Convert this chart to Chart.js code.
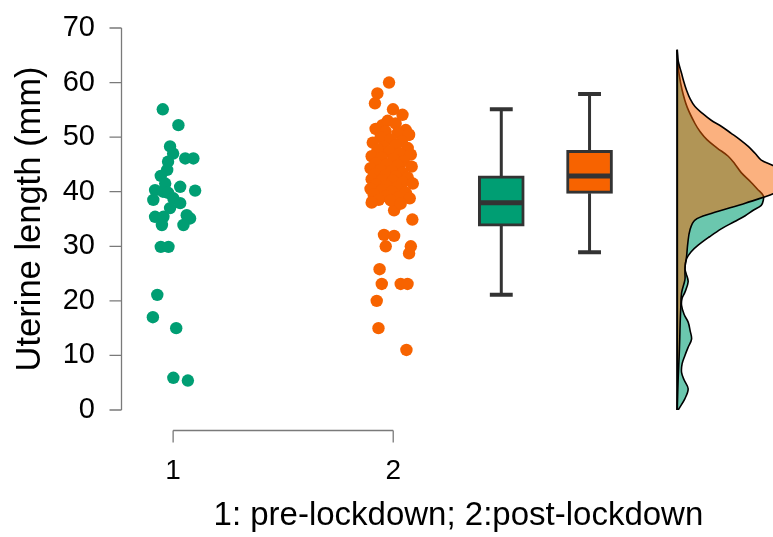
<!DOCTYPE html>
<html>
<head>
<meta charset="utf-8">
<script src="https://cdn.jsdelivr.net/npm/chart.js@4.4.0/dist/chart.umd.min.js"></script>
<style>
  html, body { margin: 0; padding: 0; background: #fff; overflow: hidden; }
</style>
</head>
<body>
<canvas id="grafico" width="801" height="537"></canvas>
<script>
//datos
const grupos = ["1", "2"];

//puntos pre-lockdown (x con jitter, y en mm)
const preX = [0.953, 1.024, 0.986, 1.000, 0.977, 1.055, 1.092, 0.973, 0.944, 1.032, 1.100, 0.918, 0.964, 0.954, 0.977, 0.910,
	1.001, 1.032, 0.986, 0.918, 0.956, 0.949, 1.062, 1.077, 1.047, 0.944, 0.979, 0.928, 0.908, 1.014, 1.001, 1.067];
const preY = [55.1, 52.2, 48.3, 47.0, 45.5, 46.1, 46.1, 44.0, 42.9, 40.9, 40.2, 40.3, 41.5, 40.0, 39.8, 38.5,
	38.8, 37.9, 37.0, 35.4, 35.4, 33.9, 35.7, 35.1, 33.9, 29.9, 29.9, 21.1, 17.0, 15.0, 5.9, 5.4];

//puntos post-lockdown
const postX = [1.981, 1.928, 1.917, 1.999, 2.042, 1.951, 2.057, 2.072, 1.905, 2.004, 2.087, 1.958, 2.004, 1.966, 2.080, 2.072,
	1.938, 1.948, 2.034, 2.065, 1.925, 1.933, 2.060,
	1.975, 2.011, 1.920, 1.966, 2.021, 2.071, 1.943, 1.989, 2.039, 1.907, 2.011, 1.957, 2.066, 1.929,
	1.984, 2.030, 2.080, 1.902, 1.948, 2.002, 2.048, 1.920, 1.970, 2.021, 2.084, 1.897, 1.943, 1.993, 2.043, 1.916,
	1.966, 2.011, 2.066, 1.902, 1.948, 1.998,
	2.043, 2.089, 1.920, 1.970, 2.016, 1.897, 1.948, 1.993, 2.057, 1.911, 1.966, 2.025, 2.075, 1.934, 1.989, 1.902, 2.034];
const postY = [60.0, 58.0, 56.2, 55.1, 54.1, 52.2, 51.3, 50.4, 38.2, 36.6, 34.9, 32.1, 31.9, 30.0, 30.0, 28.7,
	25.8, 23.1, 23.1, 23.1, 20.0, 15.0, 11.0,
	53.0, 52.5, 51.5, 51.0, 50.8, 50.5, 50.0, 49.6, 49.2, 49.0, 48.5, 48.2, 48.0, 47.8,
	47.4, 47.0, 46.8, 46.5, 46.2, 46.0, 45.6, 45.2, 45.0, 44.8, 44.6, 44.3, 44.0, 43.8, 43.5, 43.2,
	43.0, 42.8, 42.6, 42.3, 42.1, 42.0,
	41.7, 41.5, 41.3, 41.0, 40.8, 40.5, 40.3, 40.0, 39.8, 39.5, 39.2, 39.0, 38.8, 38.5, 38.4, 38.0, 37.8];

//cajas (min, q1, mediana, q3, max)
const cajaX = [2.491, 2.892];
const cajaMin = [21.1, 28.9];
const cajaQ1 = [33.7, 39.7];
const cajaMed = [38.0, 42.9];
const cajaQ3 = [42.9, 47.6];
const cajaMax = [55.1, 57.9];

//densidades (mm, densidad)
const densPreY = [0, 2.1, 3.9, 5.5, 6.9, 8.5, 10.0, 11.5, 13.0, 14.5, 16.1, 17.5, 19.2, 20.5, 21.6, 23.5, 25.0, 25.9, 27.7, 29.0,
	30.2, 31.7, 33.2, 34.5, 35.6, 36.6, 37.5, 38.4, 39.3, 40.5, 41.7, 43.5, 45.0, 46.5, 48.0, 49.5, 51.0, 52.5, 55.5, 58.6, 61.5, 64.0, 66.0];
const densPre = [0.0005, 0.0039, 0.0055, 0.0035, 0.0022, 0.0025, 0.0039, 0.0055, 0.0072, 0.0065, 0.0055, 0.0035, 0.0022, 0.0025, 0.0039, 0.0055, 0.0045, 0.0039, 0.0047, 0.0070,
	0.0105, 0.016, 0.022, 0.0285, 0.034, 0.038, 0.042, 0.043, 0.043, 0.040, 0.037, 0.032, 0.029, 0.0255, 0.020, 0.015, 0.0115, 0.0089, 0.005, 0.0025, 0.001, 0.0003, 0];
const densPostY = [0, 3.7, 6.5, 9.8, 13.0, 15.9, 18.5, 21.4, 23.9, 25.1, 26.5, 28.1, 30.5, 33.0, 34.8, 36.0, 37.9, 39.7, 41.0, 42.2,
	43.5, 44.6, 45.8, 47.0, 48.3, 49.5, 50.7, 52.0, 53.1, 54.4, 55.6, 57.0, 58.6, 60.2, 61.7, 64.0, 66.0];
const densPost = [0, 0.0003, 0.0006, 0.001, 0.0013, 0.0015, 0.0018, 0.0022, 0.0039, 0.0039, 0.004, 0.0047, 0.0053, 0.0064, 0.0089, 0.017, 0.034, 0.0485, 0.054, 0.056,
	0.052, 0.049, 0.042, 0.039, 0.0355, 0.0315, 0.027, 0.022, 0.017, 0.0125, 0.0089, 0.0065, 0.0047, 0.0033, 0.0022, 0.0005, 0];

const verde = "#009E73";
const naranja = "#F76300";
const oscuro = "#333333";
const fuente = "'Liberation Sans', Arial, sans-serif";

const densBase = 3.29; //posicion de la linea base de las densidades
const densEscala = 9.1; //unidades de x por unidad de densidad
const tope = 0.052; //media anchura de los topes
const medio = 0.095; //media anchura de la mediana

const datasets = [];

//puntos
datasets.push({
	type: "scatter",
	data: preX.map((x, i) => ({ x: x, y: preY[i] })),
	backgroundColor: verde,
	borderWidth: 0,
	pointRadius: 6.2,
	order: 1,
});
datasets.push({
	type: "scatter",
	data: postX.map((x, i) => ({ x: x, y: postY[i] })),
	backgroundColor: naranja,
	borderWidth: 0,
	pointRadius: 6.2,
	order: 1,
});

//cajas
datasets.push({
	type: "bar",
	data: cajaX.map((x, i) => ({ x: x, y: [cajaQ1[i], cajaQ3[i]] })),
	backgroundColor: [verde, naranja],
	borderColor: oscuro,
	borderWidth: 3,
	borderSkipped: false,
	barThickness: 46,
	order: 3,
});

for (let i = 0; i < cajaX.length; i++) {
	const linea = { type: "line", borderColor: oscuro, pointRadius: 0, fill: false, tension: 0 };
	//bigotes
	datasets.push(Object.assign({}, linea, { data: [{ x: cajaX[i], y: cajaQ3[i] }, { x: cajaX[i], y: cajaMax[i] }], borderWidth: 3, order: 4 }));
	datasets.push(Object.assign({}, linea, { data: [{ x: cajaX[i], y: cajaQ1[i] }, { x: cajaX[i], y: cajaMin[i] }], borderWidth: 3, order: 4 }));
	//topes
	datasets.push(Object.assign({}, linea, { data: [{ x: cajaX[i] - tope, y: cajaMax[i] }, { x: cajaX[i] + tope, y: cajaMax[i] }], borderWidth: 4, order: 4 }));
	datasets.push(Object.assign({}, linea, { data: [{ x: cajaX[i] - tope, y: cajaMin[i] }, { x: cajaX[i] + tope, y: cajaMin[i] }], borderWidth: 4, order: 4 }));
	//mediana
	datasets.push(Object.assign({}, linea, { data: [{ x: cajaX[i] - medio, y: cajaMed[i] }, { x: cajaX[i] + medio, y: cajaMed[i] }], borderWidth: 5, order: 2 }));
}

//densidades en vertical
datasets.push({
	type: "line",
	indexAxis: "y",
	data: densPreY.map((y, i) => ({ x: densBase + densPre[i] * densEscala, y: y })),
	borderColor: "#000",
	borderWidth: 1.6,
	backgroundColor: "rgba(0,158,115,0.58)",
	fill: { value: densBase },
	pointRadius: 0,
	tension: 0.35,
	order: 7,
});
datasets.push({
	type: "line",
	indexAxis: "y",
	data: densPostY.map((y, i) => ({ x: densBase + densPost[i] * densEscala, y: y })),
	borderColor: "#000",
	borderWidth: 1.6,
	backgroundColor: "rgba(247,99,0,0.5)",
	fill: { value: densBase },
	pointRadius: 0,
	tension: 0.35,
	order: 6,
});
//linea base
datasets.push({
	type: "line",
	data: [{ x: densBase, y: Math.min(...densPreY) }, { x: densBase, y: Math.max(...densPreY) }],
	borderColor: "#000",
	borderWidth: 2,
	pointRadius: 0,
	order: 0,
});

//ejes al estilo de R
const ejesR = {
	id: "ejesR",
	afterDraw: function (chart) {
		const ctx = chart.ctx;
		const x = chart.scales.x;
		const y = chart.scales.y;
		const area = chart.chartArea;
		ctx.save();
		ctx.strokeStyle = "#7a7a7a";
		ctx.lineWidth = 1.3;
		ctx.beginPath();
		const xe = area.left - 0.5;
		const yt = y.ticks.map((t) => y.getPixelForValue(t.value));
		ctx.moveTo(xe, yt[0]);
		ctx.lineTo(xe, yt[yt.length - 1]);
		yt.forEach((p) => {
			ctx.moveTo(xe - 12, p);
			ctx.lineTo(xe, p);
		});
		const ye = area.bottom + 20.5;
		const xt = x.ticks.map((t) => x.getPixelForValue(t.value));
		ctx.moveTo(xt[0], ye);
		ctx.lineTo(xt[xt.length - 1], ye);
		xt.forEach((p) => {
			ctx.moveTo(p, ye);
			ctx.lineTo(p, ye + 12);
		});
		ctx.stroke();
		ctx.restore();
	},
};

const config = {
	type: "scatter",
	data: { datasets: datasets },
	options: {
		responsive: false,
		animation: false,
		devicePixelRatio: 1,
		layout: { padding: { top: 28, left: 0, right: 0, bottom: 0 } },
		plugins: { legend: { display: false }, tooltip: { enabled: false } },
		scales: {
			x: {
				type: "linear",
				min: 0.7677,
				max: 3.8246,
				offset: false,
				//grid oculta, el tickLength solo separa las etiquetas
				grid: { display: false, drawTicks: true, tickLength: 44, offset: false },
				border: { display: false },
				afterBuildTicks: function (s) {
					s.ticks = grupos.map((g, i) => ({ value: i + 1 }));
				},
				ticks: {
					autoSkip: false,
					maxRotation: 0,
					padding: 0,
					color: "#000",
					font: { family: fuente, size: 28 },
					callback: function (v) {
						return grupos[v - 1];
					},
				},
				title: {
					display: true,
					text: "1: pre-lockdown; 2:post-lockdown",
					color: "#000",
					font: { family: fuente, size: 33 },
					padding: { top: 0, bottom: 1 },
				},
				afterFit: function (s) {
					s.height = 127;
				},
			},
			y: {
				type: "linear",
				min: 0,
				max: 70,
				grid: { display: false, drawTicks: true, tickLength: 27 },
				border: { display: false },
				ticks: {
					stepSize: 10,
					padding: 0,
					color: "#000",
					font: { family: fuente, size: 29 },
				},
				title: {
					display: true,
					text: "Uterine length (mm)",
					color: "#000",
					font: { family: fuente, size: 34.5 },
					padding: { top: 10, bottom: 0 },
				},
				afterFit: function (s) {
					s.width = 122;
				},
			},
		},
	},
	plugins: [ejesR],
};

const grafico = new Chart(document.getElementById("grafico"), config);
</script>
</body>
</html>
